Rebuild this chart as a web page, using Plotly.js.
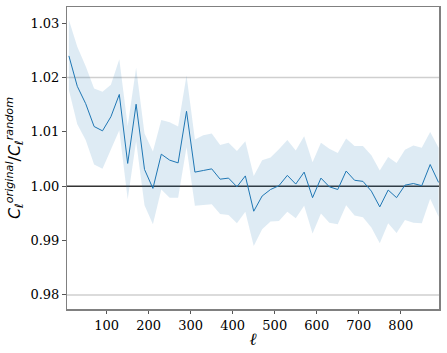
<!DOCTYPE html>
<html>
<head>
<meta charset="utf-8">
<script src="https://cdn.plot.ly/plotly-3.0.1.min.js"></script>
<style>
  html, body { margin: 0; padding: 0; background: #fff; }
  #myPlot { width: 447px; height: 353px; }
</style>
</head>
<body>
<div id="myPlot"></div>
<script>
// multipole bins
var ell = [10, 30, 50, 70, 90, 110, 130, 150, 170, 190,
           210, 230, 250, 270, 290, 310, 330, 350, 370, 390,
           410, 430, 450, 470, 490, 510, 530, 550, 570, 590,
           610, 630, 650, 670, 690, 710, 730, 750, 770, 790,
           810, 830, 850, 870, 890];

// C_l original / C_l random
var ratio = [1.0240, 1.0184, 1.0152, 1.0110, 1.0102, 1.0128, 1.0169, 1.0042, 1.0151, 1.0031,
             0.9996, 1.0059, 1.0048, 1.0043, 1.0138, 1.0026, 1.0029, 1.0032, 1.0013, 1.0015,
             0.9999, 1.0019, 0.9954, 0.9982, 0.9994, 1.0001, 1.0020, 1.0004, 1.0026, 0.9979,
             1.0015, 0.9999, 0.9994, 1.0028, 1.0011, 1.0009, 0.9991, 0.9962, 0.9993, 0.9979,
             1.0002, 1.0005, 1.0001, 1.0040, 1.0007];

// 1-sigma band
var upper = [1.0306, 1.0257, 1.0221, 1.0180, 1.0174, 1.0187, 1.0234, 1.0111, 1.0218, 1.0097,
             1.0064, 1.0122, 1.0118, 1.0110, 1.0204, 1.0086, 1.0094, 1.0097, 1.0076, 1.0080,
             1.0065, 1.0083, 1.0019, 1.0048, 1.0053, 1.0068, 1.0085, 1.0066, 1.0092, 1.0044,
             1.0080, 1.0069, 1.0061, 1.0088, 1.0074, 1.0074, 1.0057, 1.0029, 1.0054, 1.0043,
             1.0067, 1.0075, 1.0071, 1.0100, 1.0071];
var lower = [1.0177, 1.0114, 1.0085, 1.0040, 1.0032, 1.0067, 1.0103, 0.9976, 1.0083, 0.9965,
             0.9930, 0.9994, 0.9979, 0.9979, 1.0072, 0.9964, 0.9966, 0.9967, 0.9949, 0.9947,
             0.9932, 0.9953, 0.9890, 0.9921, 0.9935, 0.9936, 0.9953, 0.9941, 0.9964, 0.9913,
             0.9950, 0.9933, 0.9930, 0.9965, 0.9946, 0.9943, 0.9924, 0.9895, 0.9932, 0.9914,
             0.9938, 0.9933, 0.9932, 0.9977, 0.9944];

var xTicks = [100, 200, 300, 400, 500, 600, 700, 800];
var yTicks = [0.98, 0.99, 1.00, 1.01, 1.02, 1.03];
var refLevels = [0.98, 1.02];   // light grey guide lines
var unity = 1.0;

var tickFont = {family: "'DejaVu Serif', 'Liberation Serif', serif", size: 13, color: "#000"};

var data = [
  {x: ell, y: lower, mode: "lines", line: {width: 0, color: "rgba(0,0,0,0)"},
   hoverinfo: "skip", showlegend: false},
  {x: ell, y: upper, mode: "lines", line: {width: 0, color: "rgba(0,0,0,0)"},
   fill: "tonexty", fillcolor: "rgba(31,119,180,0.15)", hoverinfo: "skip", showlegend: false},
  {x: ell, y: ratio, mode: "lines", line: {color: "#1f77b4", width: 1}, showlegend: false}
];

var shapes = [];
refLevels.forEach(function (v) {
  shapes.push({type: "line", xref: "paper", x0: 0, x1: 1, yref: "y", y0: v, y1: v,
               line: {color: "#cfcfcf", width: 1.5}, layer: "below"});
});
shapes.push({type: "line", xref: "paper", x0: 0, x1: 1, yref: "y", y0: unity, y1: unity,
             line: {color: "#333", width: 1.5}, layer: "below"});

var layout = {
  width: 447, height: 353,
  margin: {l: 67, r: 8, t: 7, b: 44},
  paper_bgcolor: "#fff", plot_bgcolor: "#fff",
  showlegend: false,
  shapes: shapes,
  xaxis: {
    range: [5.5, 891], tickvals: xTicks, ticktext: xTicks.map(String),
    showgrid: false, zeroline: false,
    showline: true, mirror: true, linecolor: "#808080", linewidth: 1.5,
    ticks: "outside", ticklen: 3.5, tickwidth: 1, tickcolor: "#555",
    tickfont: tickFont,
    title: {text: "<i>ℓ</i>", font: {family: "'DejaVu Serif', serif", size: 17, color: "#000"}, standoff: 1}
  },
  yaxis: {
    range: [0.9774, 1.0330], tickvals: yTicks, ticktext: yTicks.map(function (v) { return v.toFixed(2); }),
    showgrid: false, zeroline: false,
    showline: true, mirror: true, linecolor: "#808080", linewidth: 1.5,
    ticks: "outside", ticklen: 3.5, tickwidth: 1, tickcolor: "#555",
    tickfont: tickFont,
    title: {text: "<i>C</i><sub><i>ℓ</i></sub><sup><i>original</i></sup>/<i>C</i><sub><i>ℓ</i></sub><sup><i>random</i></sup>",
            font: {family: "'DejaVu Sans', sans-serif", size: 16, color: "#000"}, standoff: 6}
  }
};

Plotly.newPlot("myPlot", data, layout, {staticPlot: true, displayModeBar: false});
</script>
</body>
</html>
